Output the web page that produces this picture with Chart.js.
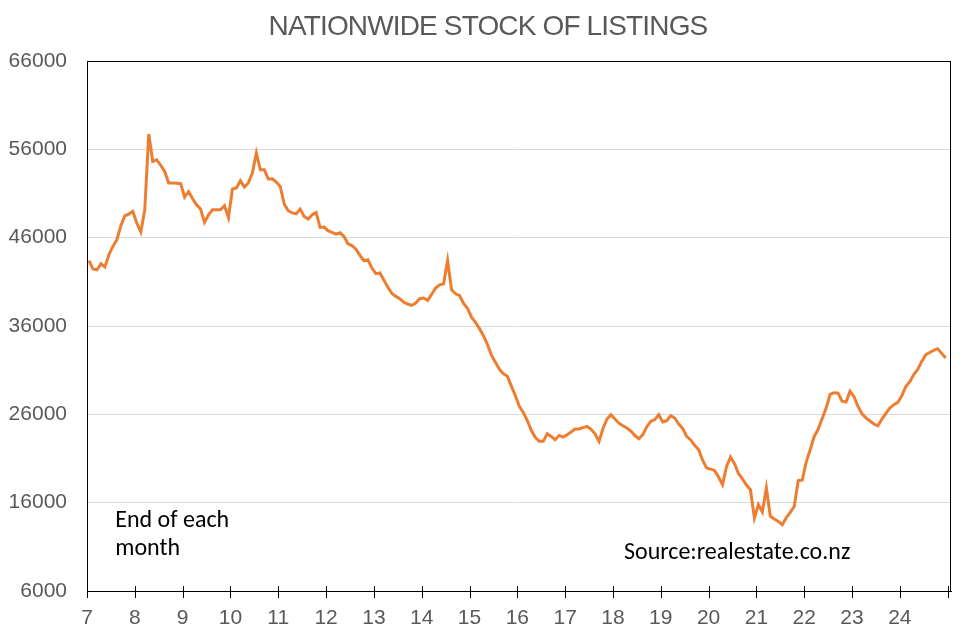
<!DOCTYPE html>
<html>
<head>
<meta charset="utf-8">
<script src="https://cdn.jsdelivr.net/npm/chart.js@4.4.1/dist/chart.umd.min.js"></script>
<style>
  html, body { margin: 0; padding: 0; background: #fff; }
  #wrap { width: 976px; height: 637px; }
</style>
</head>
<body>
<div id="wrap"><canvas id="stockChart"></canvas></div>
<script>
// Monthly stock of listings, end of each month
const y2007 = [43400, 42450, 42370, 43050, 42680, 44070, 45010, 45770, 47350, 48480, 48670, 48970];
const y2008 = [47660, 46640, 49160, 57730, 54630, 54820, 54200, 53500, 52190, 52190, 52150, 52110];
const y2009 = [50600, 51230, 50400, 49720, 49240, 47730, 48600, 49160, 49160, 49160, 49620, 48290];
const y2010 = [51510, 51620, 52450, 51730, 52190, 53320, 55580, 53690, 53690, 52640, 52670, 52300];
const y2011 = [51800, 49800, 49050, 48800, 48700, 49240, 48400, 48110, 48600, 48860, 47160, 47200];
const y2012 = [46790, 46600, 46400, 46550, 46140, 45310, 45100, 44700, 44000, 43390, 43500, 42560];
const y2013 = [41920, 42000, 41200, 40400, 39700, 39350, 39100, 38700, 38490, 38330, 38600, 39090];
const y2014 = [39170, 38900, 39600, 40300, 40670, 40790, 43420, 40110, 39650, 39460, 38550, 38000];
const y2015 = [37000, 36400, 35700, 34900, 33900, 32700, 31900, 31100, 30600, 30300, 29200, 28100];
const y2016 = [26900, 26220, 25300, 24200, 23400, 22940, 22940, 23810, 23500, 23130, 23610, 23430];
const y2017 = [23690, 24000, 24340, 24340, 24500, 24630, 24300, 23800, 22940, 24400, 25470, 25960];
const y2018 = [25470, 25000, 24700, 24450, 24100, 23600, 23240, 23700, 24600, 25200, 25400, 25960];
const y2019 = [25130, 25280, 25840, 25580, 24900, 24400, 23500, 23100, 22500, 22000, 20800, 19920];
const y2020 = [19800, 19650, 18900, 18030, 20100, 21170, 20410, 19300, 18700, 18000, 17470, 14260];
const y2021 = [15770, 14940, 17660, 14450, 14150, 13880, 13500, 14300, 14900, 15600, 18500, 18550];
const y2022 = [20600, 22000, 23500, 24300, 25500, 26700, 28250, 28450, 28400, 27500, 27390, 28620];
const y2023 = [28000, 26900, 26050, 25600, 25250, 24900, 24700, 25470, 26100, 26720, 27090, 27350];
const y2024 = [28110, 29160, 29700, 30500, 31100, 31990, 32750, 33000, 33250, 33430, 32900, 32380];

const firstYear = 7;
const years = [y2007, y2008, y2009, y2010, y2011, y2012, y2013, y2014, y2015,
               y2016, y2017, y2018, y2019, y2020, y2021, y2022, y2023, y2024];

const xTicks = [7, 8, 9, 10, 11, 12, 13, 14, 15, 16, 17, 18, 19, 20, 21, 22, 23, 24, 25];
const xTickLabels = ['7', '8', '9', '10', '11', '12', '13', '14', '15', '16', '17', '18',
                     '19', '20', '21', '22', '23', '24', ''];
const yTicks = [6000, 16000, 26000, 36000, 46000, 56000, 66000];

// each month plotted in the middle of its slot on the year axis
const points = [];
years.forEach((vals, yi) => {
  vals.forEach((v, m) => points.push({ x: firstYear + yi + (m + 0.5) / 12, y: v }));
});

const grey = '#595959';

// Excel-style frame, crossing tick marks, title and notes
const decor = {
  id: 'decor',
  afterDraw(chart) {
    const { ctx, chartArea: a, scales: { x, y } } = chart;
    ctx.save();
    ctx.strokeStyle = '#000';
    ctx.lineWidth = 1;
    ctx.strokeRect(Math.round(a.left) + 0.5, Math.round(a.top) + 0.5,
                   Math.round(a.right - a.left) - 1, Math.round(a.bottom - a.top));
    ctx.beginPath();
    x.ticks.forEach(t => {
      const px = Math.round(x.getPixelForValue(t.value)) + 0.5;
      ctx.moveTo(px, a.bottom - 5);
      ctx.lineTo(px, a.bottom + 7);
    });
    ctx.stroke();

    ctx.fillStyle = grey;
    ctx.font = '28px "Liberation Sans", Arial, sans-serif';
    ctx.letterSpacing = '-0.85px';
    ctx.textAlign = 'center';
    ctx.textBaseline = 'middle';
    ctx.fillText('NATIONWIDE STOCK OF LISTINGS', 488, 27);
    ctx.letterSpacing = '0px';

    ctx.fillStyle = '#000';
    ctx.font = '24px Carlito, Lato, sans-serif';
    ctx.textAlign = 'left';
    ctx.fillText('End of each', x.getPixelForValue(7.59), y.getPixelForValue(13960));
    ctx.fillText('month', x.getPixelForValue(7.59), y.getPixelForValue(10790));
    ctx.fillText('Source:realestate.co.nz', x.getPixelForValue(18.23), y.getPixelForValue(10340));
    ctx.restore();
  }
};

new Chart(document.getElementById('stockChart'), {
  type: 'line',
  data: {
    datasets: [{
      data: points,
      borderColor: '#ED7D31',
      borderWidth: 3,
      pointRadius: 0,
      tension: 0,
      fill: false
    }]
  },
  options: {
    responsive: true,
    maintainAspectRatio: false,
    animation: false,
    layout: { padding: { top: 61, right: 25, left: 0, bottom: 0 } },
    plugins: {
      legend: { display: false },
      tooltip: { enabled: false }
    },
    scales: {
      x: {
        type: 'linear',
        min: 7,
        max: 25.07,
        afterBuildTicks: s => { s.ticks = xTicks.map(v => ({ value: v })); },
        afterFit: s => { s.height = 46; },
        grid: { drawOnChartArea: false, drawTicks: false },
        border: { color: '#000', width: 1 },
        ticks: {
          padding: 15,
          autoSkip: false,
          maxRotation: 0,
          color: grey,
          font: { family: '"Liberation Sans", Arial, sans-serif', size: 21 },
          callback: (v, i) => xTickLabels[i]
        }
      },
      y: {
        min: 6000,
        max: 66000,
        afterBuildTicks: s => { s.ticks = yTicks.map(v => ({ value: v })); },
        afterFit: s => { s.width = 87; },
        grid: { color: '#d9d9d9', lineWidth: 1, drawTicks: false },
        border: { color: '#000', width: 1 },
        ticks: {
          padding: 20,
          color: grey,
          font: { family: '"Liberation Sans", Arial, sans-serif', size: 21 },
          callback: v => String(v)
        }
      }
    }
  },
  plugins: [decor]
});
</script>
</body>
</html>
